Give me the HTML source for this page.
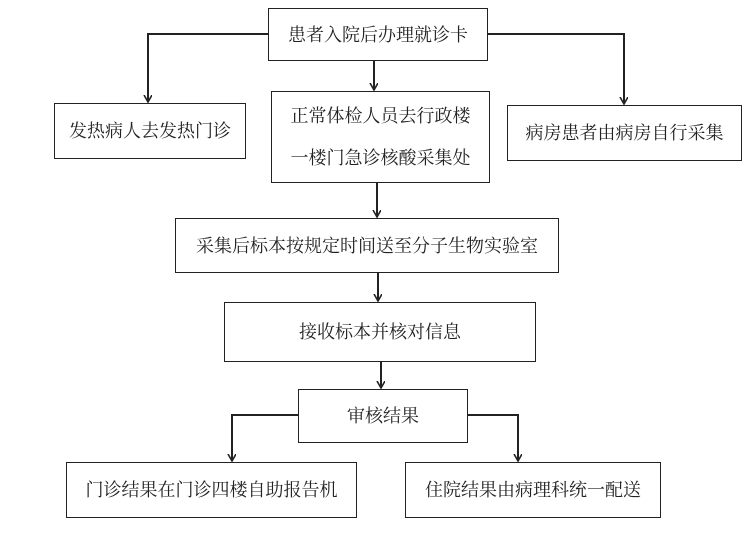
<!DOCTYPE html>
<html><head><meta charset="utf-8"><style>
html,body{margin:0;padding:0;background:#fff;}
body{width:756px;height:541px;position:relative;overflow:hidden;font-family:"Liberation Serif","Noto Serif CJK SC",serif;color:#222;}
.b{position:absolute;border:1.5px solid #222;box-sizing:border-box;display:flex;align-items:center;justify-content:center;font-size:18px;text-align:center;line-height:42px;}
svg{position:absolute;left:0;top:0;}
</style></head><body>
<svg width="756" height="541" viewBox="0 0 756 541">
<defs><marker id="a" markerWidth="9" markerHeight="9" refX="7" refY="4" orient="auto" markerUnits="userSpaceOnUse"><path d="M0,0 L7,4 L0,8" fill="none" stroke="#222" stroke-width="1.6"/></marker></defs>
<g stroke="#222" stroke-width="2" fill="none">
<path d="M268,34 H148 V102" marker-end="url(#a)"/>
<path d="M487,34 H624 V104" marker-end="url(#a)"/>
<path d="M374,60 V90" marker-end="url(#a)"/>
<path d="M377,182 V217" marker-end="url(#a)"/>
<path d="M378,272 V301" marker-end="url(#a)"/>
<path d="M381,361 V388" marker-end="url(#a)"/>
<path d="M298,415 H232 V461" marker-end="url(#a)"/>
<path d="M467,415 H518 V461" marker-end="url(#a)"/>
</g></svg>
<div class="b" style="left:268px;top:8px;width:220px;height:53px;">患者入院后办理就诊卡</div>
<div class="b" style="left:54px;top:103px;width:192px;height:56px;">发热病人去发热门诊</div>
<div class="b" style="left:271px;top:91px;width:219px;height:92px;">正常体检人员去行政楼<br>一楼门急诊核酸采集处</div>
<div class="b" style="left:507px;top:105px;width:235px;height:56px;">病房患者由病房自行采集</div>
<div class="b" style="left:175px;top:218px;width:384px;height:55px;">采集后标本按规定时间送至分子生物实验室</div>
<div class="b" style="left:224px;top:302px;width:312px;height:60px;">接收标本并核对信息</div>
<div class="b" style="left:298px;top:389px;width:170px;height:54px;">审核结果</div>
<div class="b" style="left:66px;top:462px;width:291px;height:56px;">门诊结果在门诊四楼自助报告机</div>
<div class="b" style="left:405px;top:462px;width:256px;height:56px;">住院结果由病理科统一配送</div>
</body></html>
